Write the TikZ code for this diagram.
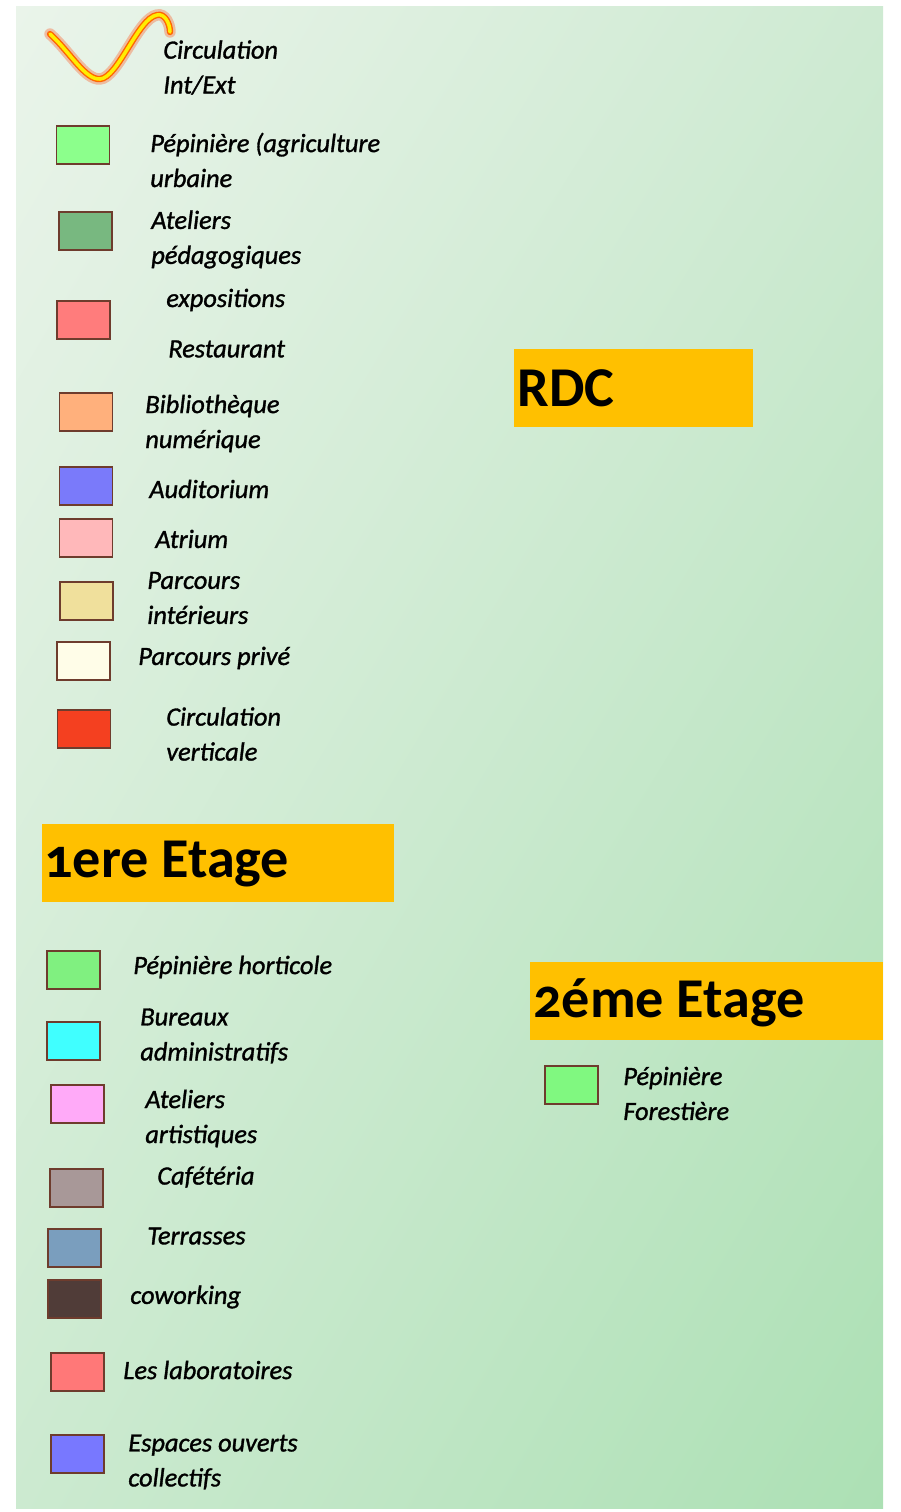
\documentclass[tikz,border=0pt]{standalone}
\usepackage{fontspec}
\usetikzlibrary{shadings}
\setmainfont{Carlito}[Numbers=OldStyle]
\definecolor{bgUL}{RGB}{234,244,234}
\definecolor{bgUR}{RGB}{206,234,210}
\definecolor{bgLL}{RGB}{204,234,208}
\definecolor{bgLR}{RGB}{172,224,180}
\definecolor{floorcol}{RGB}{255,192,0}
\definecolor{swborder}{RGB}{110,60,45}
\tikzset{
  swatch/.style={draw=swborder, line width=0.9pt, minimum width=1.06cm, minimum height=0.76cm, inner sep=0pt},
  lbl/.style={anchor=west, align=left, inner sep=0pt, font=\fontsize{15}{19.9}\selectfont\itshape\addfontfeatures{FakeBold=1.2}},
  floortxt/.style={anchor=west, inner sep=0pt, font=\fontsize{32}{38}\selectfont\bfseries}
}
\begin{document}
\begin{tikzpicture}[x=0.02cm, y=-0.02cm]
  \useasboundingbox (0,0) rectangle (900,1512);
  \shade[upper left=bgUL, upper right=bgUR, lower left=bgLL, lower right=bgLR] (16,6) rectangle (883,1508);
  % circulation int/ext
  \coordinate (w0) at (50,34);
  \coordinate (w1) at (100,79);
  \coordinate (w2) at (157,15);
  \coordinate (w3) at (170,32);
  \draw [line width=6.5pt, color=orange!50!red, opacity=0.3, line cap=round] (w0) .. controls (70,52) and (85,80) .. (w1) .. controls (118,78) and (138,18) .. (w2) .. controls (165,13) and (170,24) .. (w3);
  \draw [line width=3.6pt, color=orange!80!red, line cap=round] (w0) .. controls (70,52) and (85,80) .. (w1) .. controls (118,78) and (138,18) .. (w2) .. controls (165,13) and (170,24) .. (w3);
  \draw [line width=2pt, color=yellow!95!orange, line cap=round] (w0) .. controls (70,52) and (85,80) .. (w1) .. controls (118,78) and (138,18) .. (w2) .. controls (165,13) and (170,24) .. (w3);
  \node (lbCirc) [lbl] at (163,67.5) {Circulation\\Int/Ext};
  % RDC
  \node (swPep) [swatch, fill={rgb,255:red,140;green,255;blue,140}] at (83,145) {};
  \node (lbPep) [lbl] at (150,160) {Pépinière (agriculture\\urbaine};
  \node (swAtp) [swatch, fill={rgb,255:red,120;green,184;blue,128}] at (85.5,231) {};
  \node (lbAtp) [lbl] at (151,239.5) {Ateliers\\pédagogiques};
  \node (swExp) [swatch, fill={rgb,255:red,255;green,124;blue,124}] at (83.5,320) {};
  \node (lbExp) [lbl] at (166,300) {expositions};
  \node (lbRes) [lbl] at (168,349) {Restaurant};
  \node (swBib) [swatch, fill={rgb,255:red,255;green,176;blue,124}] at (86,412) {};
  \node (lbBib) [lbl] at (145,423.5) {Bibliothèque\\numérique};
  \node (swAud) [swatch, fill={rgb,255:red,122;green,122;blue,250}] at (86,486) {};
  \node (lbAud) [lbl] at (149,489) {Auditorium};
  \node (swAtr) [swatch, fill={rgb,255:red,255;green,184;blue,186}] at (86,538) {};
  \node (lbAtr) [lbl] at (155,539) {Atrium};
  \node (swPar) [swatch, fill={rgb,255:red,240;green,224;blue,156}] at (86.5,601) {};
  \node (lbPar) [lbl] at (147,598) {Parcours\\intérieurs};
  \node (swPri) [swatch, fill={rgb,255:red,255;green,253;blue,232}] at (83.5,661) {};
  \node (lbPri) [lbl] at (138,658) {Parcours privé};
  \node (swCir) [swatch, fill={rgb,255:red,244;green,64;blue,32}] at (84,729) {};
  \node (lbCir) [lbl] at (166,734) {Circulation\\verticale};
  \fill [floorcol] (514,349) rectangle (753,427);
  \node (rdc) [floortxt] at (517,388) {RDC};
  % 1ere etage
  \fill [floorcol] (42,824) rectangle (394,902);
  \node (etg1) [floortxt] at (44,864) {1ere Etage};
  \node (swHor) [swatch, fill={rgb,255:red,128;green,240;blue,128}] at (73.5,970) {};
  \node (lbHor) [lbl] at (133,967) {Pépinière horticole};
  \node (swBur) [swatch, fill={rgb,255:red,64;green,255;blue,255}] at (73.5,1041) {};
  \node (lbBur) [lbl] at (140,1036) {Bureaux\\administratifs};
  \node (swArt) [swatch, fill={rgb,255:red,255;green,170;blue,248}] at (77.5,1104) {};
  \node (lbArt) [lbl] at (145,1118.5) {Ateliers\\artistiques};
  \node (swCaf) [swatch, fill={rgb,255:red,168;green,152;blue,152}] at (76.5,1188) {};
  \node (lbCaf) [lbl] at (157,1177) {Cafétéria};
  \node (swTer) [swatch, fill={rgb,255:red,122;green,158;blue,190}] at (74.5,1248) {};
  \node (lbTer) [lbl] at (147,1236) {Terrasses};
  \node (swCow) [swatch, fill={rgb,255:red,80;green,60;blue,56}] at (74.5,1299) {};
  \node (lbCow) [lbl] at (130,1297) {coworking};
  \node (swLab) [swatch, fill={rgb,255:red,255;green,120;blue,120}] at (77.5,1372) {};
  \node (lbLab) [lbl] at (123,1370) {Les laboratoires};
  \node (swEsp) [swatch, fill={rgb,255:red,120;green,120;blue,255}] at (77.5,1454) {};
  \node (lbEsp) [lbl] at (128,1462) {Espaces ouverts\\collectifs};
  % 2eme etage
  \fill [floorcol] (530,962) rectangle (883,1040);
  \node (etg2) [floortxt] at (533,1003) {2éme Etage};
  \node (swFor) [swatch, fill={rgb,255:red,128;green,248;blue,128}] at (571.5,1085) {};
  \node (lbFor) [lbl] at (623,1093.5) {Pépinière\\Forestière};
\end{tikzpicture}
\end{document}
